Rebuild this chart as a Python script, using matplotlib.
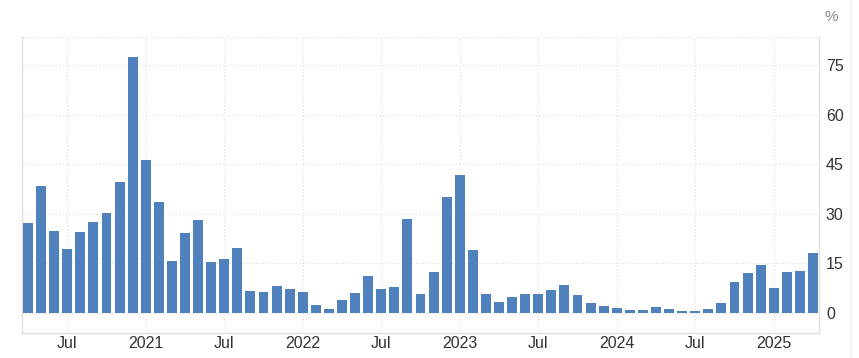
import matplotlib.pyplot as plt
import pandas as pd

plt.rcParams["font.family"] = ["Liberation Sans", "DejaVu Sans"]

# mesicni hodnoty, duben 2020 az duben 2025
mesice = pd.date_range("2020-04-01", "2025-04-01", freq="MS")
hodnoty = [27.3, 38.5, 24.8, 19.4, 24.5, 27.6, 30.3, 39.7, 77.6,
           46.4, 33.6, 15.8, 24.2, 28.2, 15.5, 16.4, 19.7, 6.8, 6.4, 8.2, 7.3, 6.4,
           2.4, 1.2, 3.9, 6.1, 11.2, 7.3, 7.9, 28.5, 5.8, 12.4, 35.2, 41.8,
           19.1, 5.8, 3.3, 4.8, 5.8, 5.8, 7.0, 8.5, 5.5, 3.0, 2.1, 1.5,
           0.9, 0.9, 1.8, 1.2, 0.6, 0.6, 1.2, 3.0, 9.4, 12.1, 14.5, 7.6,
           12.4, 12.7, 18.2]
popisky_x = ["Jul", "2021", "Jul", "2022", "Jul", "2023", "Jul", "2024", "Jul", "2025"]
popisky_y = [0, 15, 30, 45, 60, 75]

pozice = list(range(len(hodnoty)))
tick_pozice = [i for i, d in enumerate(mesice) if d.month in (1, 7)]

fig = plt.figure(figsize=(8.59, 3.58), dpi=100)
ax = fig.add_axes([22 / 859, 1 - 333 / 358, (819 - 22) / 859, (333 - 37) / 358])

ax.bar(pozice, hodnoty, width=0.76, color="#4f81bd", zorder=3)

ax.set_xlim(-0.46, len(hodnoty) - 1 + 0.46)
ax.set_ylim(-6.06, 83.6)

ax.set_xticks(tick_pozice)
ax.set_xticklabels(popisky_x)
ax.set_yticks(popisky_y)
ax.yaxis.tick_right()
ax.tick_params(axis="both", length=0, labelsize=11.5, colors="#333333")
ax.tick_params(axis="y", pad=5)
ax.tick_params(axis="x", pad=2)

ax.grid(True, color="#dddddd", linestyle=(0, (1, 2)), linewidth=0.8, zorder=0)

for s in ["left", "bottom", "right"]:
    ax.spines[s].set_color("#e0e0e0")
    ax.spines[s].set_linewidth(1)
ax.spines["top"].set_visible(False)
ax.axhline(83.6, color="#dddddd", linestyle=(0, (1, 2)), linewidth=0.8, zorder=0)

fig.text(831 / 859, 1 - 17 / 358, "%", fontsize=11, color="#888888", ha="center", va="center")
fig.add_artist(plt.Line2D([851 / 859, 851 / 859], [0, 1], color="#f0f0f0", linewidth=1))

fig.savefig("out.png", dpi=100)
